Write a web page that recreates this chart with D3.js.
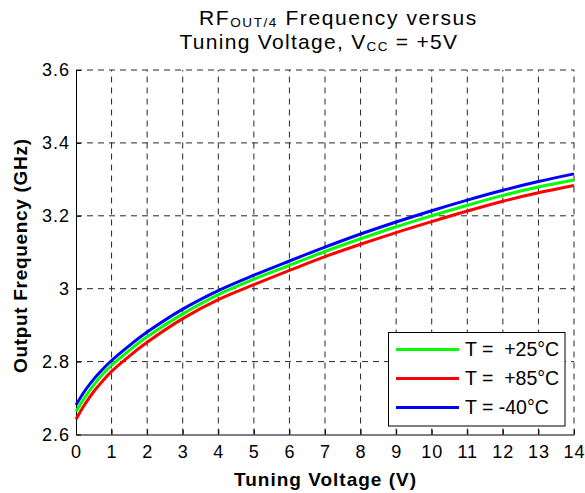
<!DOCTYPE html>
<html>
<head>
<meta charset="utf-8">
<script src="https://cdn.jsdelivr.net/npm/d3@7"></script>
<style>
    body { margin: 0; background: #fff; }
    text { font-family: "Liberation Sans", Arial, sans-serif; fill: #000; }
</style>
</head>
<body>
<div id="vis"></div>
<script>
// values
var voltage = [0, 0.25, 0.5, 0.75, 1, 1.5, 2, 3, 4, 5, 6, 7, 8, 9, 10, 11, 12, 13, 14];
var freq25 = [2.663, 2.702, 2.736, 2.765, 2.790, 2.831, 2.868, 2.931, 2.984, 3.026, 3.064, 3.102, 3.137, 3.170, 3.200, 3.229, 3.256, 3.279, 3.298];
var freq85 = [2.642, 2.683, 2.718, 2.747, 2.773, 2.815, 2.853, 2.918, 2.970, 3.011, 3.050, 3.088, 3.122, 3.154, 3.184, 3.213, 3.240, 3.263, 3.283];
var freqM40 = [2.681, 2.720, 2.752, 2.779, 2.803, 2.844, 2.881, 2.944, 2.995, 3.037, 3.076, 3.114, 3.150, 3.183, 3.214, 3.243, 3.270, 3.294, 3.315];

var xTicks = [0, 1, 2, 3, 4, 5, 6, 7, 8, 9, 10, 11, 12, 13, 14];
var yTicks = [2.6, 2.8, 3, 3.2, 3.4, 3.6];

var seriesNames = ["T =  +25\u00B0C", "T =  +85\u00B0C", "T = -40\u00B0C"];
var seriesColors = ["#00ff00", "#ff0000", "#0000ff"];
var seriesValues = [freq25, freq85, freqM40];

var width = 585, height = 493;
var plotLeft = 76, plotRight = 574, plotTop = 70, plotBottom = 434.5;

var x = d3.scaleLinear().domain([0, 14]).range([plotLeft, plotRight]);
var y = d3.scaleLinear().domain([2.6, 3.6]).range([plotBottom, plotTop]);

var svg = d3.select("#vis")
    .append("svg")
    .attr("width", width)
    .attr("height", height);

// dashed grid
svg.append("g")
    .selectAll("line")
    .data(xTicks.slice(1))
    .enter().append("line")
    .attr("x1", function (d) { return x(d); })
    .attr("x2", function (d) { return x(d); })
    .attr("y1", plotBottom)
    .attr("y2", plotTop)
    .attr("stroke", "#262626")
    .attr("stroke-width", 1)
    .attr("stroke-dasharray", "6,5");

svg.append("g")
    .selectAll("line")
    .data(yTicks.slice(1))
    .enter().append("line")
    .attr("x1", plotLeft)
    .attr("x2", plotRight)
    .attr("y1", function (d) { return y(d); })
    .attr("y2", function (d) { return y(d); })
    .attr("stroke", "#262626")
    .attr("stroke-width", 1)
    .attr("stroke-dasharray", "6,5");

// axes, ticks pointing inward
svg.append("g")
    .attr("transform", "translate(0," + plotBottom + ")")
    .call(d3.axisBottom(x).tickValues(xTicks).tickSizeInner(-5).tickSizeOuter(0).tickPadding(11));

svg.append("g")
    .attr("transform", "translate(" + plotLeft + ",0)")
    .call(d3.axisLeft(y).tickValues(yTicks).tickFormat(d3.format("~g")).tickSizeInner(-5).tickSizeOuter(0).tickPadding(6));

svg.selectAll(".domain, .tick line").attr("stroke", "#000").attr("stroke-width", 1);
svg.selectAll(".tick text")
    .style("font-family", "'Liberation Sans', Arial, sans-serif")
    .style("font-size", "18px")
    .style("letter-spacing", "1px")
    .attr("fill", "#000");

// curves
var line = d3.line()
    .x(function (d, i) { return x(voltage[i]); })
    .y(function (d) { return y(d); })
    .curve(d3.curveCatmullRom);

svg.append("g")
    .selectAll("path")
    .data(seriesValues)
    .enter().append("path")
    .attr("d", line)
    .attr("fill", "none")
    .attr("stroke", function (d, i) { return seriesColors[i]; })
    .attr("stroke-width", 3);

// title
var title = svg.append("g").style("font-size", "21px");
var t1 = title.append("text")
    .attr("x", 199)
    .attr("y", 25)
    .style("letter-spacing", "1.6px");
t1.append("tspan").text("RF");
t1.append("tspan").attr("dy", 1.7).style("font-size", "13.5px").text("OUT/4");
t1.append("tspan").attr("dy", -1.7).text(" Frequency versus");

var t2 = title.append("text")
    .attr("x", 179.5)
    .attr("y", 49)
    .style("letter-spacing", "1.3px");
t2.append("tspan").text("Tuning Voltage, V");
t2.append("tspan").attr("dy", 1.7).style("font-size", "13.5px").text("CC");
t2.append("tspan").attr("dy", -1.7).text(" = +5V");

// axis labels
svg.append("text")
    .attr("x", (plotLeft + plotRight) / 2)
    .attr("y", 486)
    .attr("text-anchor", "middle")
    .style("font-size", "19px")
    .style("font-weight", "bold")
    .attr("textLength", 182)
    .attr("lengthAdjust", "spacing")
    .text("Tuning Voltage (V)");

svg.append("text")
    .attr("transform", "translate(27,256) rotate(-90)")
    .attr("text-anchor", "middle")
    .style("font-size", "19px")
    .style("font-weight", "bold")
    .attr("textLength", 234)
    .attr("lengthAdjust", "spacing")
    .text("Output Frequency (GHz)");

// legend
var legend = svg.append("g");
legend.append("rect")
    .attr("x", 388.5)
    .attr("y", 332.5)
    .attr("width", 176.5)
    .attr("height", 93.5)
    .attr("fill", "#fff")
    .attr("stroke", "#000")
    .attr("stroke-width", 1);

var rows = legend.selectAll(".row")
    .data(seriesNames)
    .enter().append("g")
    .attr("class", "row")
    .attr("transform", function (d, i) { return "translate(0," + (349.5 + i * 29) + ")"; });

rows.append("line")
    .attr("x1", 396)
    .attr("x2", 459)
    .attr("stroke", function (d, i) { return seriesColors[i]; })
    .attr("stroke-width", 3);

rows.append("text")
    .attr("x", 465)
    .attr("y", 6.5)
    .style("font-size", "19.5px")
    .style("white-space", "pre")
    .text(function (d) { return d; });
</script>
</body>
</html>
